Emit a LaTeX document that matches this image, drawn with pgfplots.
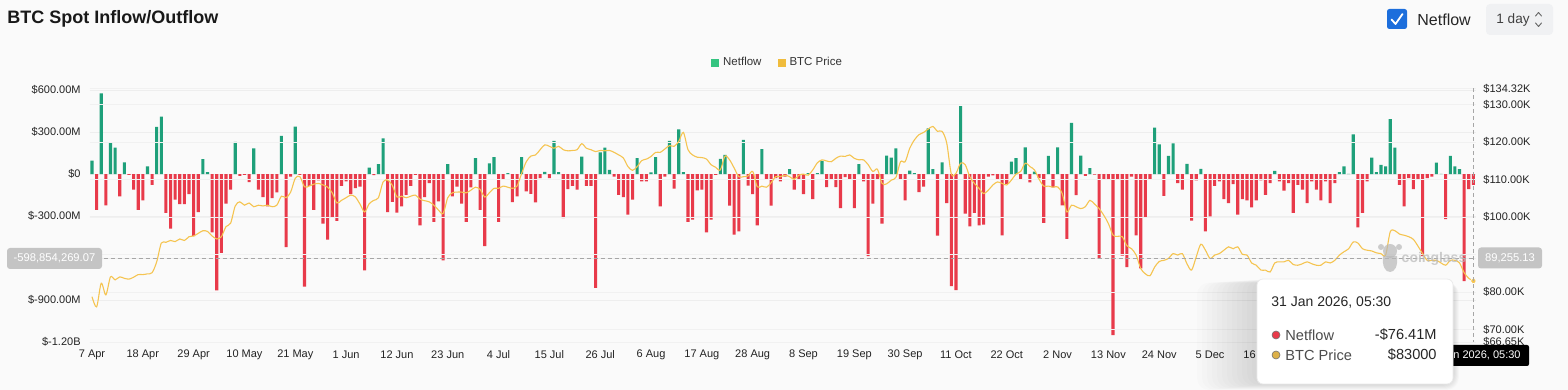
\documentclass[border=0pt]{standalone}
\usepackage{pgfplots}
\pgfplotsset{compat=1.18}
\usepackage{pgfplotstable}
\usepackage{fontspec}
\setmainfont{Liberation Sans}
\definecolor{upgreen}{RGB}{30,160,122}
\definecolor{legreen}{RGB}{52,196,128}
\definecolor{downred}{RGB}{232,58,74}
\definecolor{priceyel}{RGB}{245,196,80}
\definecolor{legyel}{RGB}{240,188,60}
\definecolor{bg}{RGB}{250,250,250}
\definecolor{ticktxt}{RGB}{35,35,35}
\definecolor{gridc}{RGB}{238,238,238}
\definecolor{chkblue}{RGB}{28,110,220}
\definecolor{crossgray}{RGB}{196,196,196}
\definecolor{btnbg}{RGB}{240,241,243}

\pgfplotstableread{
d v p
0 97 78.8
1 -254 76.1
2 576 82.4
3 -223 79.3
4 225 84.1
5 190 83.3
6 -159 84.1
7 85 83.7
8 -5 83.5
9 -111 84.0
10 -254 84.7
11 -187 84.7
12 55 84.9
13 -76 85.2
14 337 88.1
15 410 93.1
16 -277 93.3
17 -389 93.8
18 -182 93.5
19 -213 94.2
20 -213 93.8
21 -142 94.8
22 -443 95.0
23 -270 95.7
24 107 96.4
25 14 96.2
26 -415 95.0
27 -830 94.2
28 -562 94.8
29 -211 97.5
30 -111 98.4
31 230 103.0
32 -12 104.1
33 -5 103.2
34 -57 103.8
35 185 102.8
36 -111 103.2
37 -164 103.0
38 -230 103.2
39 -171 102.8
40 -130 103.2
41 273 105.6
42 -521 105.2
43 -17 106.7
44 339 110.4
45 -5 110.8
46 -803 108.1
47 -83 108.3
48 -254 108.8
49 -45 109.0
50 -353 108.6
51 -467 108.0
52 -306 106.5
53 -334 103.8
54 -83 104.5
55 -52 105.2
56 -142 105.9
57 -100 105.4
58 -88 103.5
59 -687 101.4
60 47 103.6
61 -7 104.5
62 71 105.2
63 255 109.4
64 -270 109.9
65 -198 108.5
66 -275 105.4
67 -230 105.6
68 -147 105.2
69 -83 105.6
70 -5 105.9
71 -365 104.8
72 -164 104.4
73 -64 104.1
74 -341 103.2
75 -194 101.9
76 -616 101.0
77 71 105.2
78 -159 106.5
79 -88 106.7
80 -211 106.7
81 -341 106.5
82 -95 107.2
83 114 108.0
84 -254 107.4
85 -514 105.4
86 78 106.5
87 121 107.7
88 -341 107.7
89 -33 108.3
90 7 108.0
91 -199 107.7
92 -159 108.3
93 121 111.7
94 -123 114.8
95 -140 116.3
96 -201 116.6
97 -28 118.0
98 17 119.3
99 -28 118.9
100 237 118.4
101 14 118.9
102 -313 118.0
103 -107 117.7
104 -83 117.8
105 -111 118.0
106 126 119.6
107 -83 118.4
108 -83 118.0
109 -811 117.5
110 156 117.8
111 190 117.7
112 31 117.8
113 -17 117.3
114 -147 116.6
115 -164 115.8
116 -289 113.5
117 -182 112.5
118 114 113.5
119 -52 115.1
120 -52 115.5
121 12 116.2
122 121 117.3
123 -230 117.3
124 -17 118.2
125 237 119.1
126 -104 118.9
127 320 120.2
128 14 122.6
129 -341 118.0
130 -325 116.6
131 -116 116.0
132 -111 115.9
133 -415 115.5
134 -325 114.0
135 -5 113.3
136 109 112.6
137 137 116.3
138 -225 115.3
139 -431 113.1
140 -408 110.8
141 244 110.8
142 -81 111.0
143 -142 112.2
144 -365 108.1
145 178 108.3
146 -33 108.0
147 -225 109.2
148 -28 110.8
149 -52 110.8
150 -17 111.2
151 36 110.8
152 -111 110.1
153 -36 111.2
154 -142 111.5
155 7 111.2
156 -178 112.6
157 7 114.5
158 95 115.3
159 -92 115.0
160 -36 114.8
161 -92 115.7
162 -242 116.3
163 -21 116.2
164 -33 116.6
165 -242 115.7
166 71 115.3
167 -52 115.3
168 -585 114.0
169 -211 112.2
170 -36 112.8
171 -353 109.0
172 133 108.9
173 118 109.9
174 185 110.6
175 -40 114.8
176 -187 114.8
177 26 118.4
178 7 120.6
179 -128 122.0
180 -88 122.6
181 327 123.5
182 36 124.2
183 -438 122.9
184 85 122.9
185 -206 119.8
186 -799 111.5
187 -827 111.7
188 486 114.4
189 -282 114.0
190 -372 110.8
191 -277 109.0
192 -365 107.7
193 -360 106.3
194 -17 107.2
195 -9 108.6
196 -40 109.4
197 -436 109.0
198 -69 108.6
199 90 109.9
200 114 111.5
201 -40 112.2
202 192 114.4
203 -59 113.5
204 19 112.6
205 -28 110.1
206 -348 108.3
207 130 108.3
208 -95 108.0
209 192 108.1
210 -223 106.3
211 -462 101.4
212 367 103.2
213 -149 102.8
214 133 102.3
215 -12 102.8
216 43 104.5
217 -3 103.5
218 -602 102.3
219 -33 100.5
220 -33 98.3
221 -1149 95.2
222 -33 94.9
223 -581 94.8
224 -664 92.4
225 -17 91.6
226 -436 89.9
227 -673 86.3
228 -306 84.9
229 -34 84.4
230 332 86.7
231 213 88.2
232 -154 88.5
233 130 89.0
234 220 90.3
235 -64 89.9
236 -111 90.3
237 73 87.6
238 -332 85.9
239 -45 89.4
240 38 92.8
241 -408 91.2
242 -301 89.0
243 -83 89.9
244 -52 90.3
245 -178 91.2
246 -206 92.1
247 -71 91.6
248 -289 92.1
249 -178 90.1
250 -187 89.9
251 -237 87.8
252 -187 87.2
253 -45 85.9
254 -147 85.9
255 -64 85.4
256 24 87.8
257 -52 88.1
258 -118 88.1
259 -64 88.5
260 -277 87.4
261 -76 87.2
262 -111 87.6
263 -206 88.1
264 -52 87.6
265 -111 87.2
266 -187 87.2
267 -52 88.1
268 -206 87.8
269 -64 88.5
270 14 89.9
271 55 90.8
272 2 91.6
273 284 93.4
274 -379 93.1
275 -277 91.6
276 -52 91.2
277 118 91.0
278 14 90.5
279 66 90.3
280 55 89.9
281 393 96.1
282 190 96.4
283 -76 95.5
284 -230 95.2
285 -28 94.8
286 -107 94.1
287 -36 92.3
288 -585 90.3
289 -28 88.5
290 -17 88.5
291 83 88.5
292 2 87.8
293 -320 87.2
294 130 88.5
295 55 88.5
296 36 87.8
297 -763 85.2
298 -107 83.7
299 -76.41 83.0
}\flowdata

\tikzset{px/.style={x=0.5pt,y=-0.5pt,shift={(0pt,195pt)}}}

\begin{document}
\begin{tikzpicture}
\useasboundingbox (0pt,0pt) rectangle (784pt,195pt);
\fill[bg] (0pt,0pt) rectangle (784pt,195pt);

\begin{axis}[
  at={(44.85pt,23.85pt)}, anchor=south west,
  scale only axis, width=693pt, height=126.9pt,
  xmin=-0.5, xmax=299.5, ymin=-1200, ymax=611.6,
  axis line style={draw=none}, major tick length=0pt,
  xtick={0,11,...,253},
  xticklabels={7 Apr,18 Apr,29 Apr,10 May,21 May,1 Jun,12 Jun,23 Jun,4 Jul,15 Jul,26 Jul,6 Aug,17 Aug,28 Aug,8 Sep,19 Sep,30 Sep,11 Oct,22 Oct,2 Nov,13 Nov,24 Nov,5 Dec,16 Dec},
  ytick={-1200,-900,-600,-300,0,300,600},
  yticklabels={\$-1.20B,\$-900.00M,{},\$-300.00M,\$0,\$300.00M,\$600.00M},
  ymajorgrids, grid style={gridc, line width=0.5pt},
  tick label style={font=\fontsize{5.5pt}{6pt}\selectfont, text=ticktxt},
  xticklabel style={anchor=center, yshift=-6.35pt},
  yticklabel style={anchor=east, inner sep=0pt, xshift=-4.35pt},
]
\addplot[ybar, bar width=1.55pt, bar shift=0pt, fill=upgreen, draw=none, restrict y to domain=0.5:3000] table[x=d,y=v]{\flowdata};
\addplot[ybar, bar width=1.55pt, bar shift=0pt, fill=downred, draw=none, restrict y to domain=-3000:-0.5] table[x=d,y=v]{\flowdata};
\end{axis}

\begin{axis}[
  at={(44.85pt,23.85pt)}, anchor=south west,
  scale only axis, width=693pt, height=126.9pt,
  xmin=-0.5, xmax=299.5, ymin=66.65, ymax=134.32,
  hide x axis, axis y line*=right,
  axis line style={draw=none}, major tick length=0pt,
  ytick={66.65,70,80,90,100,110,120,130,134.32},
  yticklabels={\$66.65K,\$70.00K,\$80.00K,{},\$100.00K,\$110.00K,\$120.00K,\$130.00K,\$134.32K},
  ymajorgrids, grid style={gridc!70!bg, line width=0.5pt},
  tick label style={font=\fontsize{5.5pt}{6pt}\selectfont, text=ticktxt},
  yticklabel style={anchor=west, inner sep=0pt, xshift=3.65pt},
  legend style={at={(0.497,1.1005)}, anchor=center, draw=none, fill=none,
    legend columns=2, font=\fontsize{5.75pt}{6pt}\selectfont, text=black!80,
    /tikz/every even column/.append style={column sep=6pt}},
  legend image code/.code={\fill[#1] (0pt,-2pt) rectangle (4pt,2pt);},
]
\addplot[priceyel, line width=0.55pt, smooth, forget plot] table[x=d,y=p]{\flowdata};
\addplot[only marks, mark=*, mark size=1.3pt, mark options={fill=priceyel, draw=white, line width=0.3pt}, forget plot] coordinates {(299,83.0)};
\addlegendimage{fill=legreen, draw=none}
\addlegendentry{Netflow}
\addlegendimage{fill=legyel, draw=none}
\addlegendentry{BTC Price}
\end{axis}

\begin{scope}[px]
% header
\node[anchor=west, inner sep=0pt, font=\bfseries\fontsize{9pt}{10pt}\selectfont, text=black!90] at (7,19) {BTC Spot Inflow/Outflow};
\fill[chkblue, rounded corners=1.2pt] (1387,9) rectangle (1407,29);
\draw[white, line width=0.9pt, line cap=round, line join=round] (1391.5,19.5) -- (1395.5,24) -- (1402.5,14);
\node[anchor=west, inner sep=0pt, font=\fontsize{8pt}{9pt}\selectfont, text=black!85] at (1417,19.5) {Netflow};
\fill[btnbg, rounded corners=2pt] (1486,4) rectangle (1553,35);
\node[anchor=west, inner sep=0pt, font=\fontsize{6.8pt}{8pt}\selectfont, text=black!75] at (1496,19.5) {1 day};
\draw[black!60, line width=0.45pt, line cap=round, line join=round] (1535.5,16) -- (1538.5,12.5) -- (1541.5,16);
\draw[black!60, line width=0.45pt, line cap=round, line join=round] (1535.5,23) -- (1538.5,26.5) -- (1541.5,23);

% crosshair
\draw[black!35, line width=0.45pt, dash pattern=on 2pt off 1.5pt] (89.7,258.5) -- (1475.7,258.5);
\draw[black!35, line width=0.45pt, dash pattern=on 2pt off 1.5pt] (1473,88.5) -- (1473,342.3);
\node[fill=crossgray, rounded corners=1.5pt, text=white, inner sep=0pt, minimum width=47.5pt, minimum height=10.5pt, font=\fontsize{5.6pt}{6pt}\selectfont] at (54.5,258.5) {-598,854,269.07};
\node[fill=crossgray, rounded corners=1.5pt, text=white, inner sep=0pt, minimum width=32pt, minimum height=10.5pt, font=\fontsize{5.6pt}{6pt}\selectfont] at (1510,258) {89,255.13};

% watermark
\begin{scope}[opacity=0.7]
\fill[black!28] (1390,251) circle (7);
\fill[black!28] (1383,256) .. controls (1382,266) and (1385,272) .. (1390,272) .. controls (1395,272) and (1398,266) .. (1397,256) -- cycle;
\fill[black!28] (1381,247) circle (3);
\fill[black!28] (1399,247) circle (3);
\node[text=black!28, inner sep=0pt, font=\bfseries\fontsize{7pt}{8pt}\selectfont] at (1434,259) {coinglass};
\end{scope}

% axis pointer label (its left part is hidden by the tooltip)
\fill[black, rounded corners=1pt] (1420,345) rectangle (1529,366);
\node[anchor=east, text=white, inner sep=0pt, font=\fontsize{5.5pt}{6pt}\selectfont] at (1521,355.5) {n 2026, 05:30};

% tooltip shadow
\foreach \i in {1,...,12} {
  \fill[black, opacity=0.011, rounded corners=6pt] (1257-5*\i,279+0.3*\i) rectangle (1453+0.5*\i,384+0.5*\i);
}
\filldraw[fill=white, draw=black!8, line width=0.4pt, rounded corners=3pt] (1257,279) rectangle (1453,384);
\node[anchor=west, inner sep=0pt, font=\fontsize{7pt}{8pt}\selectfont, text=black!85] at (1271,303) {31 Jan 2026, 05:30};
\filldraw[fill=downred, draw=black!55, line width=0.3pt] (1276,335) circle (4);
\node[anchor=west, inner sep=0pt, font=\fontsize{7.3pt}{8pt}\selectfont, text=black!70] at (1285,335) {Netflow};
\node[anchor=east, inner sep=0pt, font=\fontsize{7.3pt}{8pt}\selectfont, text=black!85] at (1437,335) {-\$76.41M};
\filldraw[fill=priceyel!90!black, draw=black!55, line width=0.3pt] (1276,355) circle (4);
\node[anchor=west, inner sep=0pt, font=\fontsize{7.3pt}{8pt}\selectfont, text=black!70] at (1285,355) {BTC Price};
\node[anchor=east, inner sep=0pt, font=\fontsize{7.3pt}{8pt}\selectfont, text=black!85] at (1437,355) {\$83000};
\end{scope}
\end{tikzpicture}
\end{document}
